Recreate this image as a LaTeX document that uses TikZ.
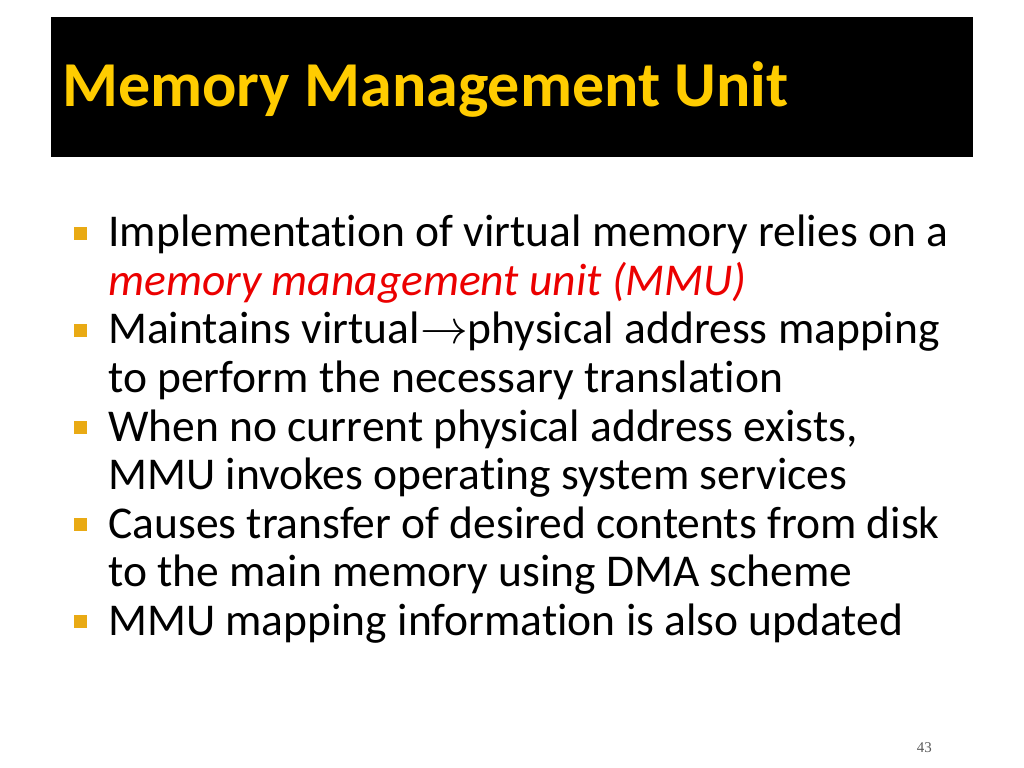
\documentclass[tikz,border=0pt]{standalone}
\usepackage{fontspec}
\usepackage{graphicx}
\setmainfont{Carlito}[Ligatures=NoCommon]
\newfontfamily\pagefont{Liberation Serif}
\definecolor{titleyellow}{RGB}{255,204,0}
\definecolor{bulletgold}{RGB}{233,170,20}
\definecolor{mmured}{RGB}{235,0,0}
\usetikzlibrary{positioning}

\begin{document}
\begin{tikzpicture}
    [
      x=0.703125pt, y=-0.703125pt,
      title bar/.style={fill=black, draw=none},
      my title/.style={anchor=base west, inner sep=0pt, text=titleyellow, font=\fontsize{45}{48}\selectfont\bfseries},
      my line/.style={anchor=base west, inner sep=0pt, text height=23pt, text depth=7pt, font=\fontsize{32}{34}\selectfont},
      my bullet/.style={fill=bulletgold, minimum size=13*0.703125pt, inner sep=0pt, anchor=center}
    ]
    \useasboundingbox (0,0) rectangle (1024,768);
    \fill [title bar] (51,17) rectangle (973,157);
    \node (title) [my title] at (62,107) {Memory Management Unit};
    % bullets
    \node (b1) [my bullet] at (80,233.5) {};
    \node (b2) [my bullet] at (80,330.5) {};
    \node (b3) [my bullet] at (80,427.5) {};
    \node (b4) [my bullet] at (80,524.5) {};
    \node (b5) [my bullet] at (80,621.5) {};
    % text lines
    \node (l1) [my line] at (108,247) {Implementation of virtual memory relies on a};
    \node (l2) [my line, text=mmured] at (108,295.5) {\itshape memory management unit (MMU)};
    \node (l3) [my line] at (108,344) {Maintains virtual\smash{\scalebox{1.35}{$\rightarrow$}}physical address mapping};
    \node (l4) [my line] at (108,392.5) {to perform the necessary translation};
    \node (l5) [my line] at (108,441) {When no current physical address exists,};
    \node (l6) [my line] at (108,489.5) {MMU invokes operating system services};
    \node (l7) [my line] at (108,538) {Causes transfer of desired contents from disk};
    \node (l8) [my line] at (108,586.5) {to the main memory using DMA scheme};
    \node (l9) [my line] at (108,635) {MMU mapping information is also updated};
    \node (page) [anchor=base east, inner sep=0pt, text=black!65, font=\pagefont\fontsize{10.5}{12}\selectfont] at (932,752) {43};
  \end{tikzpicture}
\end{document}
